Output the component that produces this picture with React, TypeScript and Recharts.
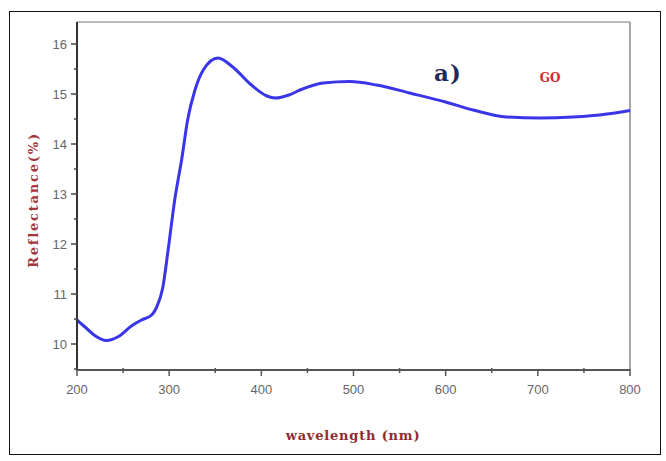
import { LineChart, Line, XAxis, YAxis, ReferenceLine } from 'recharts';

// wavelength (nm) and reflectance (%)
const wavelength = [
  200, 210, 220, 232, 245, 259, 270, 281, 286, 293, 299, 306, 314, 320, 328, 337, 353, 369, 388, 406,
  415, 430, 442, 467, 496, 525, 561, 600, 630, 666, 702, 738, 775, 800,
];
const reflectance = [
  10.48, 10.32, 10.16, 10.07, 10.15, 10.36, 10.48, 10.58, 10.72, 11.12, 11.9, 12.88, 13.74, 14.48,
  15.08, 15.48, 15.72, 15.54, 15.2, 14.96, 14.92, 14.98, 15.08, 15.22, 15.25, 15.18, 15.02, 14.84,
  14.68, 14.54, 14.52, 14.54, 14.6, 14.67,
];
const xTicks = [200, 250, 300, 350, 400, 450, 500, 550, 600, 650, 700, 750, 800];
const yTicks = [9.5, 10, 10.5, 11, 11.5, 12, 12.5, 13, 13.5, 14, 14.5, 15, 15.5, 16];

const data = wavelength.map((w, i) => ({ w, r: reflectance[i] }));

const tickFont = { fontFamily: 'Liberation Sans, Arial, sans-serif', fontSize: 13, fill: '#666' };

const XTick = (props: any) => {
  const { x, y, payload } = props;
  const major = payload.value % 100 === 0;
  return (
    <g>
      <line x1={x} x2={x} y1={major ? y - 1 : y - 2} y2={major ? y + 6 : y + 3} stroke="#555" strokeWidth={1.5} />
      {major && (
        <text x={x} y={y + 24} textAnchor="middle" {...tickFont}>
          {payload.value}
        </text>
      )}
    </g>
  );
};

const YTick = (props: any) => {
  const { x, y, payload } = props;
  const major = Number.isInteger(payload.value);
  return (
    <g>
      <line x1={major ? x - 6 : x - 3} x2={x + 1} y1={y} y2={y} stroke="#444" strokeWidth={1.5} />
      {major && (
        <text x={x - 10} y={y + 5} textAnchor="end" {...tickFont}>
          {payload.value}
        </text>
      )}
    </g>
  );
};

export default function App() {
  return (
    <div style={{ position: 'absolute', left: 0, top: 0, width: 666, height: 461, background: '#fff' }}>
      <div
        style={{
          position: 'absolute',
          left: 9,
          top: 11,
          width: 650,
          height: 442,
          border: '1px solid #111',
        }}
      />
      <div style={{ position: 'absolute', left: 0, top: 0 }}>
        <LineChart width={666} height={461} data={data} margin={{ top: 22, right: 36, bottom: 61, left: 37 }}>
          <XAxis
            dataKey="w"
            type="number"
            domain={[200, 800]}
            ticks={xTicks}
            height={30}
            tickSize={0}
            tickMargin={0}
            tickLine={false}
            tick={<XTick />}
            axisLine={{ stroke: '#555', strokeWidth: 2 }}
            interval={0}
          />
          <YAxis
            type="number"
            domain={[9.48, 16.44]}
            ticks={yTicks}
            width={40}
            tickSize={0}
            tickMargin={0}
            tickLine={false}
            tick={<YTick />}
            axisLine={{ stroke: '#333', strokeWidth: 2 }}
            interval={0}
          />
          <ReferenceLine y={16.44} stroke="#bbb" strokeWidth={2} />
          <ReferenceLine x={800} stroke="#888" strokeWidth={1.5} />
          <Line
            type="monotone"
            dataKey="r"
            stroke="#3a35e8"
            strokeWidth={3}
            dot={false}
            isAnimationActive={false}
          />
        </LineChart>
      </div>
      <div
        style={{
          position: 'absolute',
          left: 33,
          top: 200,
          transform: 'translate(-50%, -50%) rotate(-90deg)',
          whiteSpace: 'nowrap',
          fontFamily: 'DejaVu Serif, serif',
          fontWeight: 'bold',
          fontSize: 13,
          letterSpacing: 1.8,
          color: '#a0383a',
        }}
      >
        Reflectance(%)
      </div>
      <div
        style={{
          position: 'absolute',
          left: 353,
          top: 435,
          transform: 'translate(-50%, -50%)',
          whiteSpace: 'nowrap',
          fontFamily: 'DejaVu Serif, serif',
          fontWeight: 'bold',
          fontSize: 13,
          letterSpacing: 0.8,
          color: '#8e2c30',
        }}
      >
        wavelength (nm)
      </div>
      <div
        style={{
          position: 'absolute',
          left: 448,
          top: 72,
          transform: 'translate(-50%, -50%)',
          fontFamily: 'DejaVu Serif, serif',
          fontWeight: 'bold',
          fontSize: 23,
          letterSpacing: 1,
          color: '#1c2a5c',
        }}
      >
        a)
      </div>
      <div
        style={{
          position: 'absolute',
          left: 550,
          top: 78,
          transform: 'translate(-50%, -50%)',
          fontFamily: 'DejaVu Serif, serif',
          fontWeight: 'bold',
          fontSize: 12,
          color: '#d42a2a',
        }}
      >
        GO
      </div>
    </div>
  );
}
